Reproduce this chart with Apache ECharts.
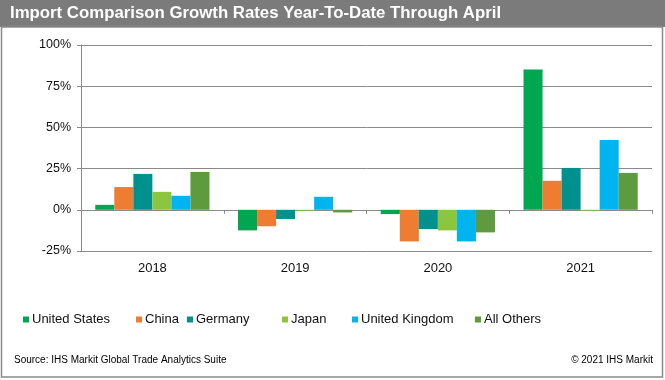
<!DOCTYPE html>
<html>
<head>
<meta charset="utf-8">
<script src="https://cdn.jsdelivr.net/npm/echarts@6/dist/echarts.min.js"></script>
<style>
html,body{margin:0;padding:0;background:#fff;}
#chart{width:665px;height:380px;}
</style>
</head>
<body>
<div id="chart"></div>
<script>
var categories = ['2018', '2019', '2020', '2021'];
var unitedStates = [3.0, -12.5, -2.6, 85.2];
var china = [13.8, -10.0, -19.2, 17.6];
var germany = [21.8, -5.6, -11.7, 25.4];
var japan = [10.9, -0.5, -12.5, -0.5];
var unitedKingdom = [8.5, 7.9, -19.2, 42.4];
var allOthers = [23.0, -1.6, -13.7, 22.4];
var yTicks = [-25, 0, 25, 50, 75, 100];

var FONT = '"Liberation Sans", Arial, sans-serif';
var seriesDefs = [
  {name: 'United States', data: unitedStates, color: '#00A650', legendLeft: 23},
  {name: 'China', data: china, color: '#EE7D31', legendLeft: 136},
  {name: 'Germany', data: germany, color: '#00918E', legendLeft: 187},
  {name: 'Japan', data: japan, color: '#8CC63F', legendLeft: 282},
  {name: 'United Kingdom', data: unitedKingdom, color: '#00B5EF', legendLeft: 352},
  {name: 'All Others', data: allOthers, color: '#5E9B3E', legendLeft: 475}
];

var chart = echarts.init(document.getElementById('chart'), null, {renderer: 'canvas'});
var option = {
  animation: false,
  backgroundColor: '#fff',
  graphic: [
    {type: 'rect', z: -10, shape: {x: 0, y: 0, width: 665, height: 27}, style: {fill: '#7b7b7b'}},
    {type: 'rect', z: -10, shape: {x: 1.5, y: 27, width: 661, height: 350}, style: {fill: 'none', stroke: '#8a8a8a', lineWidth: 1.5}}
  ],
  title: [
    {text: 'Import Comparison Growth Rates Year-To-Date Through April', left: 10, top: 5, padding: 0,
     textStyle: {color: '#fff', fontWeight: 'bold', fontSize: 16.8, fontFamily: FONT}},
    {text: 'Source: IHS Markit Global Trade Analytics Suite', left: 14, top: 355, padding: 0,
     textStyle: {color: '#000', fontWeight: 'normal', fontSize: 10, fontFamily: FONT}},
    {text: '\u00A9 2021 IHS Markit', right: 12, top: 355, padding: 0,
     textStyle: {color: '#000', fontWeight: 'normal', fontSize: 10, fontFamily: FONT}}
  ],
  legend: seriesDefs.map(function (s) {
    return {
      data: [s.name], left: s.legendLeft, top: 313, padding: 0,
      icon: 'rect', itemWidth: 6, itemHeight: 6,
      textStyle: {fontSize: 13, color: '#111', fontFamily: FONT, padding: [0, 0, 0, -2]},
      selectedMode: false
    };
  }),
  grid: {left: 81, right: 13, top: 45, bottom: 129, containLabel: false},
  xAxis: [
    {
      type: 'category', data: categories, position: 'bottom',
      axisLine: {show: false, onZero: false},
      axisTick: {show: false},
      axisLabel: {fontSize: 13, color: '#111', fontFamily: FONT, margin: 11}
    },
    {
      type: 'category', data: categories, position: 'bottom',
      axisLine: {show: true, onZero: true, onZeroAxisIndex: 0, lineStyle: {color: '#8a8a8a', width: 1}},
      axisTick: {show: true, length: 4, alignWithLabel: false, lineStyle: {color: '#8a8a8a'}},
      axisLabel: {show: false}
    }
  ],
  yAxis: {
    type: 'value', min: -25, max: 100, interval: 25,
    axisLine: {show: true, lineStyle: {color: '#8a8a8a', width: 1}},
    axisTick: {show: true, length: 4, lineStyle: {color: '#8a8a8a'}},
    splitLine: {show: true, lineStyle: {color: '#8a8a8a', width: 1}},
    axisLabel: {
      fontSize: 12.5, color: '#111', fontFamily: FONT, margin: 10,
      formatter: function (v) { return yTicks.indexOf(v) >= 0 ? v + '%' : ''; }
    }
  },
  series: seriesDefs.map(function (s) {
    return {
      name: s.name, type: 'bar', xAxisIndex: 0, data: s.data,
      barGap: '0%', barCategoryGap: '20%',
      itemStyle: {color: s.color}
    };
  })
};
chart.setOption(option);
</script>
</body>
</html>
